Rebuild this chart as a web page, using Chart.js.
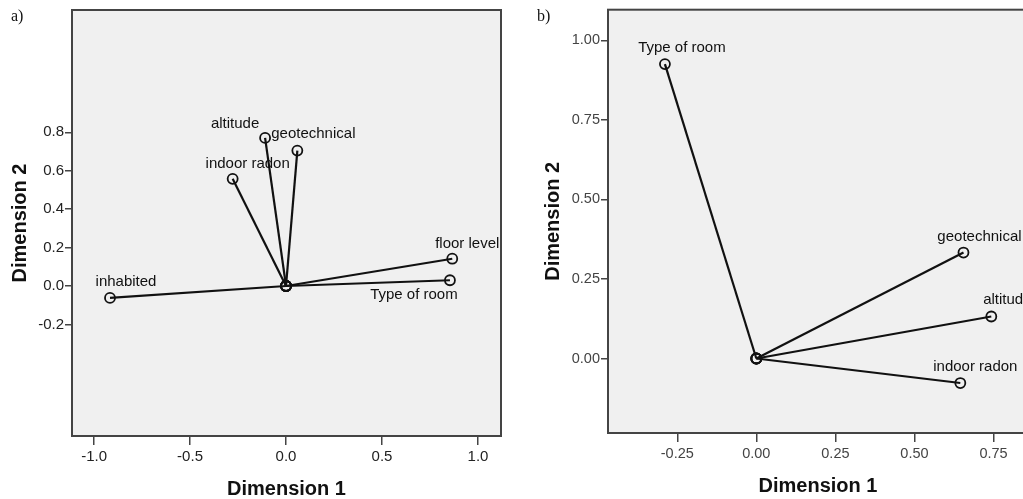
<!DOCTYPE html>
<html>
<head>
<meta charset="utf-8">
<script src="https://cdn.jsdelivr.net/npm/chart.js@4/dist/chart.umd.min.js"></script>
<style>
  body { margin: 0; background: #fff; overflow: hidden; width: 1023px; height: 499px; position: relative; }
  canvas { position: absolute; top: 0; }
  #chart-a { left: 0; }
  #chart-b { left: 520px; }
  .panel-tag { position: absolute; top: 7px; font: 16px "Liberation Serif", "Times New Roman", serif; color: #111; }
</style>
</head>
<body>
<canvas id="chart-a" width="520" height="499"></canvas>
<canvas id="chart-b" width="520" height="499"></canvas>
<div class="panel-tag" style="left:11px">a)</div>
<div class="panel-tag" style="left:537px">b)</div>
<script>
// panel a: component loadings
const namesA = ["inhabited", "indoor radon", "altitude", "geotechnical", "floor level", "Type of room"];
const dim1A = [-0.917, -0.278, -0.109, 0.059, 0.866, 0.854];
const dim2A = [-0.062, 0.558, 0.771, 0.705, 0.142, 0.030];
const xTicksA = [-1.0, -0.5, 0.0, 0.5, 1.0];
const yTicksA = [-0.2, 0.0, 0.2, 0.4, 0.6, 0.8];

// panel b: component loadings
const namesB = ["Type of room", "geotechnical", "altitude", "indoor radon"];
const dim1B = [-0.289, 0.655, 0.743, 0.645];
const dim2B = [0.925, 0.333, 0.132, -0.077];
const xTicksB = [-0.25, 0.00, 0.25, 0.50, 0.75];
const yTicksB = [0.00, 0.25, 0.50, 0.75, 1.00];

// where each name sits relative to its point (px)
const labelOffsetA = [[16, -16], [15, -15], [-30, -14], [16, -17], [15, -15], [-36, 15]];
const labelOffsetB = [[17, -16], [16, -16], [16, -17], [15, -16]];

const FONT = "'Liberation Sans', Arial, sans-serif";

const boxPlugin = {
    id: "box",
    beforeDatasetsDraw(chart) {
        const { ctx, chartArea: a } = chart;
        ctx.save();
        ctx.fillStyle = "#f0f0f0";
        ctx.fillRect(a.left, a.top, a.right - a.left, a.bottom - a.top);
        ctx.restore();
    },
    afterDraw(chart) {
        const { ctx, chartArea: a } = chart;
        ctx.save();
        ctx.strokeStyle = "#444";
        ctx.lineWidth = 2;
        ctx.strokeRect(a.left, a.top, a.right - a.left, a.bottom - a.top);
        ctx.restore();
    }
};

const namePlugin = {
    id: "names",
    afterDatasetsDraw(chart, args, opts) {
        const ctx = chart.ctx;
        ctx.save();
        ctx.font = "15px " + FONT;
        ctx.fillStyle = "#111";
        ctx.textAlign = "center";
        ctx.textBaseline = "middle";
        chart.data.datasets.forEach((ds, i) => {
            const pt = chart.getDatasetMeta(i).data[1];
            const off = opts.offsets[i];
            ctx.fillText(ds.label, pt.x + off[0], pt.y + off[1]);
        });
        ctx.restore();
    }
};

function makePanel(id, p) {
    const datasets = p.names.map((name, i) => ({
        label: name,
        data: [{ x: 0, y: 0 }, { x: p.dim1[i], y: p.dim2[i] }],
        showLine: true,
        borderColor: "#111",
        borderWidth: 2.2,
        pointRadius: 5,
        pointBorderWidth: 1.8,
        pointBorderColor: "#111",
        pointBackgroundColor: "rgba(0,0,0,0)"
    }));

    const tickFont = { family: FONT, size: p.tickSize };
    const titleFont = { family: FONT, size: 20, weight: "bold", lineHeight: 1 };

    new Chart(document.getElementById(id), {
        type: "scatter",
        data: { datasets },
        plugins: [boxPlugin, namePlugin],
        options: {
            responsive: false,
            animation: false,
            layout: { padding: { left: 0, top: p.top, right: p.right, bottom: 0 } },
            plugins: {
                legend: { display: false },
                tooltip: { enabled: false },
                names: { offsets: p.offsets }
            },
            scales: {
                x: {
                    type: "linear",
                    min: p.xRange[0],
                    max: p.xRange[1],
                    afterBuildTicks: s => { s.ticks = p.xTicks.map(v => ({ value: v })); },
                    afterFit: s => { s.height = p.xAxisHeight; },
                    grid: { drawOnChartArea: false, drawTicks: true, tickLength: 9, color: "#444", lineWidth: 1.5 },
                    border: { display: false },
                    ticks: { font: tickFont, color: p.tickColor, padding: 3, maxRotation: 0, callback: v => v.toFixed(p.decimals) },
                    title: { display: true, text: "Dimension 1", font: titleFont, color: "#111", padding: { top: 0, bottom: p.xTitlePad } }
                },
                y: {
                    type: "linear",
                    min: p.yRange[0],
                    max: p.yRange[1],
                    afterBuildTicks: s => { s.ticks = p.yTicks.map(v => ({ value: v })); },
                    afterFit: s => { s.width = p.yAxisWidth; },
                    grid: { drawOnChartArea: false, drawTicks: true, tickLength: 7, color: "#444", lineWidth: 1.5 },
                    border: { display: false },
                    ticks: { font: tickFont, color: p.tickColor, padding: 1, callback: v => v.toFixed(p.decimals) },
                    title: { display: true, text: "Dimension 2", font: titleFont, color: "#111", padding: { top: p.yTitlePad, bottom: 0 } }
                }
            }
        }
    });
}

makePanel("chart-a", {
    names: namesA, dim1: dim1A, dim2: dim2A,
    xTicks: xTicksA, yTicks: yTicksA, decimals: 1,
    xRange: [-1.115, 1.12], yRange: [-0.781, 1.437],
    offsets: labelOffsetA,
    top: 9, right: 19, yAxisWidth: 72, xAxisHeight: 63,
    xTitlePad: 0, yTitlePad: 10, tickColor: "#222", tickSize: 15
});

makePanel("chart-b", {
    names: namesB, dim1: dim1B, dim2: dim2B,
    xTicks: xTicksB, yTicks: yTicksB, decimals: 2,
    xRange: [-0.469, 0.859], yRange: [-0.234, 1.096],
    offsets: labelOffsetB,
    top: 9, right: 12, yAxisWidth: 88, xAxisHeight: 66,
    xTitlePad: 3, yTitlePad: 23, tickColor: "#444", tickSize: 14.5
});
</script>
</body>
</html>
